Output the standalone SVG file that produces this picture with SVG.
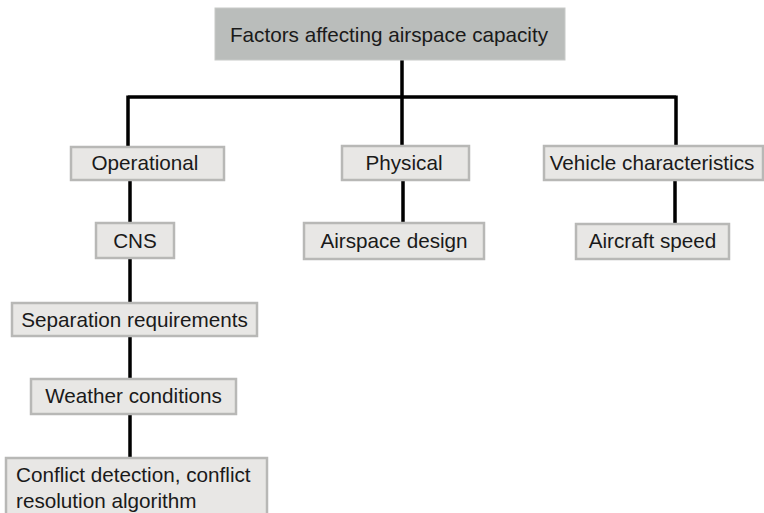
<svg xmlns="http://www.w3.org/2000/svg" width="764" height="513" viewBox="0 0 764 513">
<style>
.box{fill:#e8e7e5;stroke:#b8b8b6;stroke-width:2.5}
.top{fill:#babdbb;stroke:#c8cac8;stroke-width:1}
.t{font-family:"Liberation Sans",Arial,sans-serif;font-size:20.7px;fill:#1a1a1a}
.c{text-anchor:middle}
.ln{stroke:#000;stroke-width:3.5;fill:none}
</style>
<rect width="764" height="513" fill="#fff"/>
<g id="connectors">
<path class="ln" d="M402 60V97M128 97H676M128 95.5V147M402 97V146M676 95.5V146"/>
<path class="ln" d="M130 180V223M130 258V303M130 336V379M130 414V458"/>
<path class="ln" d="M403 180V223M675 180V224"/>
</g>
<g id="root"><rect class="top" x="215" y="8" width="350" height="52"/><text class="t c" x="389" y="42">Factors affecting airspace capacity</text></g>
<g id="operational"><rect class="box" x="71" y="147" width="153" height="33"/><text class="t c" x="145" y="170">Operational</text></g>
<g id="physical"><rect class="box" x="342" y="146" width="127" height="34"/><text class="t c" x="404" y="170">Physical</text></g>
<g id="vehicle"><rect class="box" x="544" y="146" width="219" height="34"/><text class="t c" x="652" y="170">Vehicle characteristics</text></g>
<g id="cns"><rect class="box" x="96" y="223" width="78" height="35"/><text class="t c" x="135" y="248">CNS</text></g>
<g id="airspace-design"><rect class="box" x="304" y="223" width="180" height="36"/><text class="t c" x="394" y="248">Airspace design</text></g>
<g id="aircraft-speed"><rect class="box" x="576" y="224" width="153" height="35"/><text class="t c" x="652.5" y="248">Aircraft speed</text></g>
<g id="separation"><rect class="box" x="12" y="303" width="245" height="33"/><text class="t c" x="134.5" y="327">Separation requirements</text></g>
<g id="weather"><rect class="box" x="31" y="379" width="205" height="35"/><text class="t c" x="133.5" y="403">Weather conditions</text></g>
<g id="conflict"><rect class="box" x="6" y="458" width="261" height="60"/><text class="t" x="16" y="482">Conflict detection, conflict</text><text class="t" x="16" y="508">resolution algorithm</text></g>
</svg>
